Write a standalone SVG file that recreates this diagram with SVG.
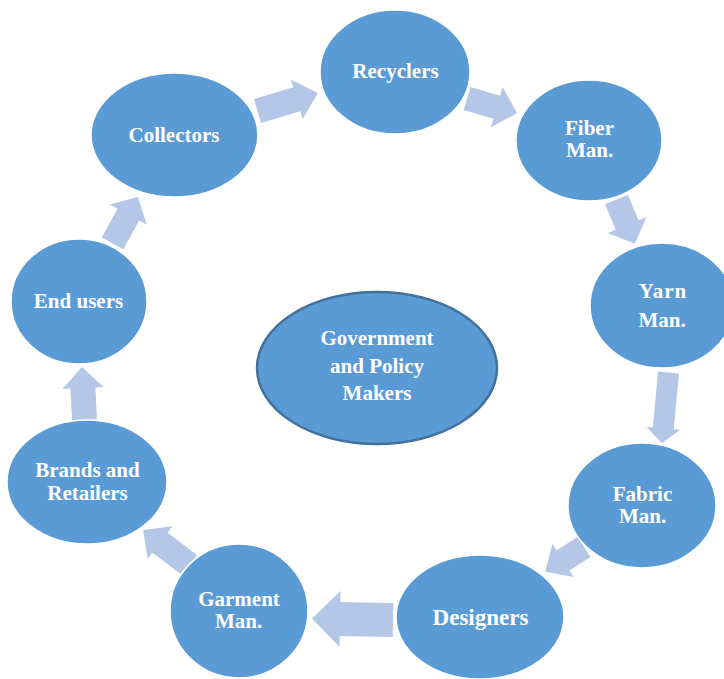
<svg xmlns="http://www.w3.org/2000/svg" width="724" height="679" viewBox="0 0 724 679">
  <style>
    .node { fill: #5B9BD5; stroke: #FFFFFF; stroke-width: 1.5; }
    .hub { fill: #5B9BD5; stroke: #41719C; stroke-width: 2.5; }
    .arrow { fill: #B4C7E7; stroke: none; }
    .label { font-family: "Liberation Serif", "Times New Roman", serif; font-weight: bold; font-size: 21px; fill: #FFFFFF; text-anchor: middle; }
    .big { font-size: 23px; }
  </style>
  <rect width="724" height="679" fill="#FFFFFF"/>

  <!-- block arrows around the cycle -->
  <g id="connectors">
    <path class="arrow" transform="translate(257.5,111) rotate(-16.6)" d="M0,-12.5 H41 V-20.7 L63,0 L41,20.7 V12.5 H0 Z"/>
    <path class="arrow" transform="translate(467,98.5) rotate(16.2)" d="M0,-12 H31 V-21 L52,0 L31,21 V12 H0 Z"/>
    <path class="arrow" transform="translate(616.5,199.5) rotate(67.4)" d="M0,-12.3 H27.6 V-21 L48,0 L27.6,21 V12.3 H0 Z"/>
    <path class="arrow" transform="translate(668.5,372.5) rotate(95.3)" d="M0,-10.5 H56 V-17 L71,0 L56,17 V10.5 H0 Z"/>
    <path class="arrow" transform="translate(584,547) rotate(147.3)" d="M0,-12 H25 V-19.5 L46,0 L25,19.5 V12 H0 Z"/>
    <path class="arrow" transform="translate(393,620) rotate(181)" d="M0,-17 H53 V-28 L81,0 L53,28 V17 H0 Z"/>
    <path class="arrow" transform="translate(189.5,565) rotate(217)" d="M0,-12.5 H37 V-20.5 L58,0 L37,20.5 V12.5 H0 Z"/>
    <path class="arrow" transform="translate(84.5,420) rotate(267.3)" d="M0,-12.5 H32 V-20.5 L53,0 L32,20.5 V12.5 H0 Z"/>
    <path class="arrow" transform="translate(112.5,243.5) rotate(-61.3)" d="M0,-12.3 H33 V-21 L53,0 L33,21 V12.3 H0 Z"/>
  </g>

  <g id="recyclers">
    <ellipse class="node" cx="395" cy="72" rx="75" ry="62"/>
    <text class="label" x="395.5" y="78">Recyclers</text>
  </g>
  <g id="fiber">
    <ellipse class="node" cx="589" cy="140.5" rx="73" ry="60.5"/>
    <text class="label" x="589.5" y="135">Fiber</text>
    <text class="label" x="589.5" y="157">Man.</text>
  </g>
  <g id="yarn">
    <ellipse class="node" cx="662" cy="305.5" rx="72" ry="62.5"/>
    <text class="label" x="663" y="298" letter-spacing="1">Yarn</text>
    <text class="label" x="662" y="327">Man.</text>
  </g>
  <g id="fabric">
    <ellipse class="node" cx="642" cy="505.5" rx="74" ry="62.5"/>
    <text class="label" x="642.5" y="501">Fabric</text>
    <text class="label" x="642.5" y="523">Man.</text>
  </g>
  <g id="designers">
    <ellipse class="node" cx="480" cy="617" rx="84" ry="62"/>
    <text class="label big" x="480.5" y="625">Designers</text>
  </g>
  <g id="garment">
    <ellipse class="node" cx="239" cy="611" rx="69" ry="67"/>
    <text class="label" x="239" y="606">Garment</text>
    <text class="label" x="238.5" y="628">Man.</text>
  </g>
  <g id="brands">
    <ellipse class="node" cx="87" cy="482" rx="80" ry="62"/>
    <text class="label" x="87.5" y="477">Brands and</text>
    <text class="label" x="87.5" y="500">Retailers</text>
  </g>
  <g id="end-users">
    <ellipse class="node" cx="79" cy="301.5" rx="68" ry="62.5"/>
    <text class="label" x="78.5" y="308">End users</text>
  </g>
  <g id="collectors">
    <ellipse class="node" cx="174.5" cy="135" rx="83.5" ry="62"/>
    <text class="label" x="174" y="142">Collectors</text>
  </g>
  <g id="government">
    <ellipse class="hub" cx="377" cy="368" rx="120" ry="76"/>
    <text class="label" x="377" y="345">Government</text>
    <text class="label" x="377" y="373">and Policy</text>
    <text class="label" x="377" y="400">Makers</text>
  </g>
</svg>
